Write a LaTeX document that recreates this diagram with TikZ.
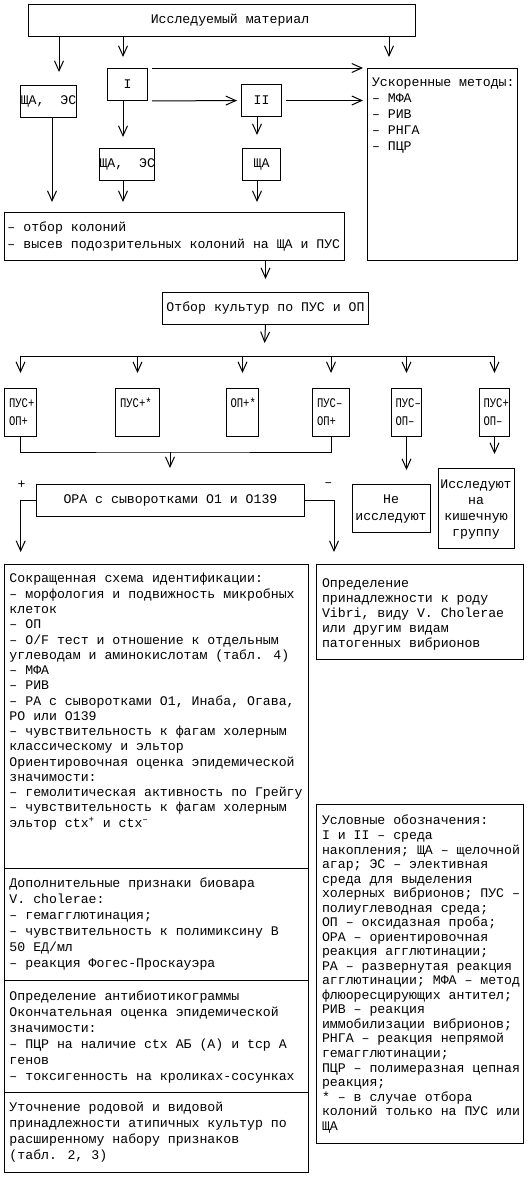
\documentclass[tikz,border=0pt]{standalone}
\usepackage{fontspec}
\newfontfamily\cour{Liberation Mono}
\newfontfamily\courn[FakeStretch=0.8]{Liberation Mono}
\usetikzlibrary{arrows.meta}
\newcommand\tstrut{\rule{0pt}{8pt}}

\begin{document}
\begin{tikzpicture}[x=0.75pt, y=-0.75pt,
                line width=0.75pt,
                box/.style={draw, inner sep=0pt, anchor=north west},
                sz/.style 2 args={minimum width=#1*0.75pt, minimum height=#2*0.75pt},
                lbl/.style={inner sep=0pt, font=\cour\fontsize{9.9pt}{12pt}\selectfont},
                txt/.style={inner sep=0pt, anchor=north west, align=left,
                    font=\cour\fontsize{9.9pt}{#1}\selectfont},
                stxt/.style={inner sep=0pt, anchor=north west, align=left,
                    font=\courn\fontsize{9.9pt}{13.8pt}\selectfont},
                ctxt/.style={inner sep=0pt, anchor=north, align=center,
                    font=\cour\fontsize{9.9pt}{#1}\selectfont},
                arr/.style={-{Straight Barb[length=7.5pt,width=6.75pt]}},
                gap/.style={shorten >=#1*0.75pt}]
    \useasboundingbox (0,0) rectangle (530,1179);
    \fill[white] (0,0) rectangle (530,1179);

    % top part
    \node[box, sz={387}{32}] (mat) at (28,4) {};
    \node[lbl] (matT) at (230,20) {Исследуемый материал};
    \node[box, sz={56}{32}, lbl] (esA) at (20,85) {ЩА,\ \ ЭС};
    \node[box, sz={40}{32}, lbl] (nI) at (107,68) {I};
    \node[box, sz={40}{32}, lbl] (nII) at (241,84) {II};
    \node[box, sz={150}{192}] (uskor) at (367,68) {};
    \node[txt=12pt] (uskorT) at (371.5,75.8) {\tstrut Ускоренные методы:\\– МФА\\– РИВ\\– РНГА\\– ПЦР};
    \node[box, sz={55}{32}, lbl] (esB) at (99,148) {ЩА,\ \ ЭС};
    \node[box, sz={38}{32}, lbl] (shaB) at (242,148) {ЩА};
    \node[box, sz={340}{48}] (otbor) at (4,212) {};
    \node[txt=13pt] (otborT) at (7,220.3) {\tstrut – отбор колоний\\– высев подозрительных колоний на ЩА и ПУС};
    \node[box, sz={206}{32}, lbl] (kult) at (162,292) {Отбор культур по ПУС и ОП};

    \coordinate (cI) at (123,0);
    \coordinate (cII) at (257,0);
    \draw[arr, gap=13] (mat.south -| 59,0) -- (esA.north -| 59,0);
    \draw[arr, gap=11] (mat.south -| cI) -- (nI.north -| cI);
    \draw[arr, gap=11] (mat.south -| 389,0) -- (uskor.north -| 389,0);
    \draw[arr, shorten <=3pt, gap=4] (nI.north east) -- (nI.north east -| uskor.west);
    \draw[arr, shorten <=3pt, gap=4] (nI.south east) -- (nII.west);
    \draw[arr, shorten <=3pt, gap=4] (nII.east) -- (nII.east -| uskor.west);
    \draw[arr, gap=11] (nI.south -| cI) -- (esB.north -| cI);
    \draw[arr, gap=13] (nII.south -| cII) -- (shaB.north -| cII);
    \draw[arr, gap=10] (esA.south -| 52,0) -- (otbor.north -| 52,0);
    \draw[arr, gap=10] (esB.south -| cI) -- (otbor.north -| cI);
    \draw[arr, gap=10] (shaB.south -| cII) -- (otbor.north -| cII);
    \draw[arr, gap=13] (otbor.south -| kult.north) -- (kult.north);

    % cultures
    \node[box, sz={32}{48}] (b1) at (4,388) {};
    \node[box, sz={44}{48}] (b2) at (115,388) {};
    \node[box, sz={32}{48}] (b3) at (226,388) {};
    \node[box, sz={37}{48}] (b4) at (312,388) {};
    \node[box, sz={30}{48}] (b5) at (391,388) {};
    \node[box, sz={30}{48}] (b6) at (479,388) {};
    \node[stxt] (b1T) at (8.5,396.3) {\tstrut ПУС+\\ОП+};
    \node[stxt] (b2T) at (119.5,396.3) {\tstrut ПУС+*};
    \node[stxt] (b3T) at (230,396.3) {\tstrut ОП+*};
    \node[stxt] (b4T) at (316.5,396.3) {\tstrut ПУС–\\ОП+};
    \node[stxt] (b5T) at (395,396.3) {\tstrut ПУС–\\ОП–};
    \node[stxt] (b6T) at (483,396.3) {\tstrut ПУС+\\ОП–};

    \coordinate (split) at (264,356);
    \draw[arr, gap=13] (kult.south) -- (split);
    \draw (split -| b1.north) -- (split -| b6.north);
    \foreach \b in {b1,b2,b3,b4,b5,b6}
        \draw[arr, gap=15] (split -| \b.north) -- (\b.north);

    \node[box, sz={268}{32}, lbl] (ora) at (36,484) {ОРА с сыворотками О1 и О139};
    \node[box, sz={78}{48}] (neis) at (352,484) {};
    \node[ctxt=12.5pt] (neisT) at (391,492.8) {\tstrut Не\\исследуют};
    \node[box, sz={76}{80}] (kish) at (438,468) {};
    \node[ctxt=12pt] (kishT) at (476,477.8) {\tstrut Исследуют\\на\\кишечную\\группу};

    \coordinate (merge) at (170,452);
    \draw (b1.south) |- (merge) -| (b4.south);
    \draw[arr, gap=16] (merge) -- (merge |- ora.north);
    \draw[arr, gap=14] (b5.south) -- (b5.south |- neis.north);
    \draw[arr, gap=14] (b6.south) -- (b6.south |- kish.north);

    \node[lbl] (plus) at (21.7,485) {+};
    \node[lbl] (minus) at (328.3,485) {–};
    \coordinate (lft) at (20.7,564);
    \coordinate (rgt) at (334,564);
    \draw[arr, gap=12] (ora.west) -| (lft);
    \draw[arr, gap=12] (ora.east) -| (rgt);

    % identification
    \node[box, sz={303.5}{304}] (sokr) at (4,564) {};
    \node[box, sz={303.5}{112}] (dop) at (4,868) {};
    \node[box, sz={303.5}{112}] (anti) at (4,980) {};
    \node[box, sz={303.5}{80}] (utoch) at (4,1092) {};
    \node[txt=11.45pt] (sokrT) at (9,571.8) {\tstrut Сокращенная схема идентификации:\\
        – морфология и подвижность микробных\\клеток\\– ОП\\
        – O/F тест и отношение к отдельным\\углеводам и аминокислотам (табл. 4)\\
        – МФА\\– РИВ\\– РА с сыворотками О1, Инаба, Огава,\\РО или О139\\
        – чувствительность к фагам холерным\\классическому и эльтор\\
        Ориентировочная оценка эпидемической\\значимости:\\
        – гемолитическая активность по Грейгу\\
        – чувствительность к фагам холерным\\
        эльтор ctx\textsuperscript{+} и ctx\textsuperscript{–}};
    \node[txt=12pt] (dopT) at (9,876.1) {\tstrut Дополнительные признаки биовара\\V. cholerae:\\
        – гемагглютинация;\\– чувствительность к полимиксину В\\50 ЕД/мл\\
        – реакция Фогес-Проскауэра};
    \node[txt=12pt] (antiT) at (9,989.5) {\tstrut Определение антибиотикограммы\\
        Окончательная оценка эпидемической\\значимости:\\
        – ПЦР на наличие ctx АБ (А) и tcp А\\генов\\
        – токсигенность на кроликах-сосунках};
    \node[txt=12pt] (utochT) at (9,1100.8) {\tstrut Уточнение родовой и видовой\\
        принадлежности атипичных культур по\\расширенному набору признаков\\(табл. 2, 3)};

    \node[box, sz={207}{95}] (opr) at (316,564) {};
    \node[txt=11.25pt] (oprT) at (321.5,576.1) {\tstrut Определение\\принадлежности к роду\\
        Vibri, виду V. Cholerae\\или другим видам\\патогенных вибрионов};
    \node[box, sz={207}{339}] (usl) at (316,804) {};
    \node[txt=10.9pt] (uslT) at (321.5,813.8) {\tstrut Условные обозначения:\\I и II – среда\\
        накопления; ЩА – щелочной\\агар; ЭС – элективная\\среда для выделения\\
        холерных вибрионов; ПУС –\\полиуглеводная среда;\\ОП – оксидазная проба;\\
        ОРА – ориентировочная\\реакция агглютинации;\\РА – развернутая реакция\\
        агглютинации; МФА – метод\\флюоресцирующих антител;\\РИВ – реакция\\
        иммобилизации вибрионов;\\РНГА – реакция непрямой\\гемагглютинации;\\
        ПЦР – полимеразная цепная\\реакция;\\* – в случае отбора\\
        колоний только на ПУС или\\ЩА};
\end{tikzpicture}
\end{document}
